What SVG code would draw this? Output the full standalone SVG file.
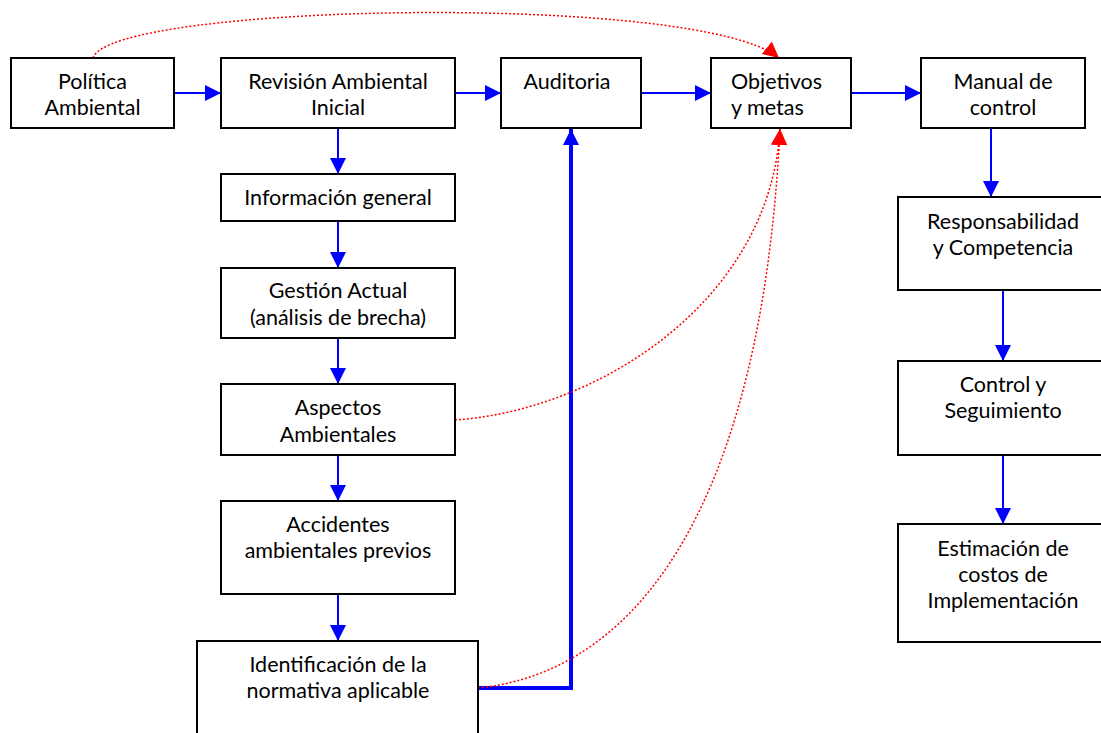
<svg xmlns="http://www.w3.org/2000/svg" width="1101" height="733" viewBox="0 0 1101 733">
<style>
.box{fill:#fff;stroke:#000;stroke-width:2}
.t{font-family:Lato,"Open Sans",sans-serif;font-size:21.5px;fill:#000;text-anchor:middle}
.tl{text-anchor:start}
.b{fill:none;stroke:#0000FF;stroke-width:2}
.bt{fill:none;stroke:#0000FF;stroke-width:4}
.r{fill:none;stroke:#FF0000;stroke-width:1.5;stroke-dasharray:2 2}
</style>
<defs>
<marker id="ab" markerUnits="userSpaceOnUse" markerWidth="16" markerHeight="16" refX="16" refY="8" orient="auto">
<path d="M0,0 L16,8 L0,16 Z" fill="#0000FF"/>
</marker>
<marker id="ar" markerUnits="userSpaceOnUse" markerWidth="16" markerHeight="16" refX="16" refY="8" orient="auto">
<path d="M0,0 L16,8 L0,16 Z" fill="#FF0000"/>
</marker>
</defs>
<rect width="1101" height="733" fill="#fff"/>
<g id="connectors">
<line class="b" x1="174" y1="93" x2="221" y2="93" marker-end="url(#ab)"/>
<line class="b" x1="455" y1="93" x2="501" y2="93" marker-end="url(#ab)"/>
<line class="b" x1="641" y1="93" x2="711" y2="93" marker-end="url(#ab)"/>
<line class="b" x1="851" y1="93" x2="921" y2="93" marker-end="url(#ab)"/>
<line class="b" x1="338" y1="128" x2="338" y2="174" marker-end="url(#ab)"/>
<line class="b" x1="338" y1="221" x2="338" y2="268" marker-end="url(#ab)"/>
<line class="b" x1="338" y1="338" x2="338" y2="384" marker-end="url(#ab)"/>
<line class="b" x1="338" y1="455" x2="338" y2="501" marker-end="url(#ab)"/>
<line class="b" x1="338" y1="594" x2="338" y2="641" marker-end="url(#ab)"/>
<line class="b" x1="991" y1="128" x2="991" y2="197" marker-end="url(#ab)"/>
<line class="b" x1="1003" y1="290" x2="1003" y2="361" marker-end="url(#ab)"/>
<line class="b" x1="1003" y1="455" x2="1003" y2="524" marker-end="url(#ab)"/>
<path class="bt" d="M478,688 L571,688 L571,129" marker-end="url(#ab)"/>
<path class="r" d="M93,58 C110,3 700,-8 779,58" marker-end="url(#ar)"/>
<path class="r" d="M455,420 C600,410 770,300 780,129" marker-end="url(#ar)"/>
<path class="r" d="M478,688 C640,672 762,500 780,129" marker-end="url(#ar)"/>
</g>
<g id="n-politica"><rect class="box" x="11" y="58" width="163" height="70"/><text class="t" x="92.5" y="89">Política</text><text class="t" x="92.5" y="115">Ambiental</text></g>
<g id="n-revision"><rect class="box" x="221" y="58" width="234" height="70"/><text class="t" x="338" y="89">Revisión Ambiental</text><text class="t" x="338" y="115">Inicial</text></g>
<g id="n-auditoria"><rect class="box" x="501" y="58" width="140" height="70"/><text class="t" x="567" y="89">Auditoria</text></g>
<g id="n-objetivos"><rect class="box" x="711" y="58" width="140" height="70"/><text class="t tl" x="731" y="89">Objetivos</text><text class="t tl" x="731" y="115">y metas</text></g>
<g id="n-manual"><rect class="box" x="921" y="58" width="164" height="70"/><text class="t" x="1003" y="89">Manual de</text><text class="t" x="1003" y="115">control</text></g>
<g id="n-info"><rect class="box" x="221" y="174" width="234" height="47"/><text class="t" x="338" y="205">Información general</text></g>
<g id="n-gestion"><rect class="box" x="221" y="268" width="234" height="70"/><text class="t" x="338" y="298">Gestión Actual</text><text class="t" x="338" y="325">(análisis de brecha)</text></g>
<g id="n-aspectos"><rect class="box" x="221" y="384" width="234" height="71"/><text class="t" x="338" y="415">Aspectos</text><text class="t" x="338" y="442">Ambientales</text></g>
<g id="n-accidentes"><rect class="box" x="221" y="501" width="234" height="93"/><text class="t" x="338" y="532">Accidentes</text><text class="t" x="338" y="558">ambientales previos</text></g>
<g id="n-identificacion"><rect class="box" x="197" y="641" width="281" height="100"/><text class="t" x="338" y="672">Identificación de la</text><text class="t" x="338" y="698">normativa aplicable</text></g>
<g id="n-responsabilidad"><rect class="box" x="898" y="197" width="210" height="93"/><text class="t" x="1003" y="229">Responsabilidad</text><text class="t" x="1003" y="255">y Competencia</text></g>
<g id="n-control"><rect class="box" x="898" y="361" width="210" height="94"/><text class="t" x="1003" y="392">Control y</text><text class="t" x="1003" y="418">Seguimiento</text></g>
<g id="n-estimacion"><rect class="box" x="898" y="524" width="210" height="118"/><text class="t" x="1003" y="556">Estimación de</text><text class="t" x="1003" y="582">costos de</text><text class="t" x="1003" y="608">Implementación</text></g>
</svg>
